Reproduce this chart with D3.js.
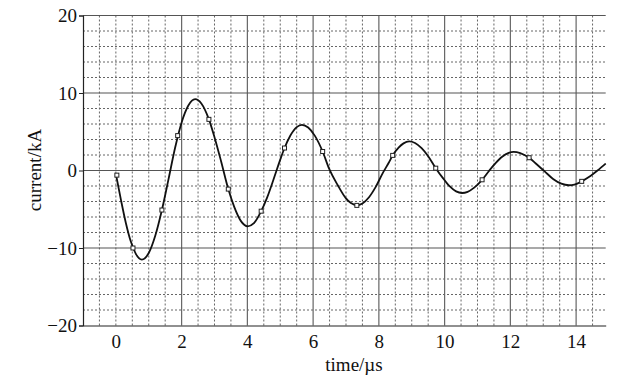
<!DOCTYPE html>
<html><head><meta charset="utf-8">
<script src="https://cdn.jsdelivr.net/npm/d3@7"></script>
<style>
html,body{margin:0;padding:0;background:#fff;}
svg{display:block;}
svg text{font-family:"Liberation Serif","Times New Roman",serif !important;fill:#111;}
</style></head>
<body><svg id="c" width="641" height="384"></svg>
<script>
// curve readings (time in µs, current in kA)
const curveT = [0, 0.15, 0.3, 0.45, 0.6, 0.79, 1.0, 1.2, 1.4, 1.6, 1.8, 2.0, 2.2, 2.41,
  2.6, 2.83, 3.0, 3.2, 3.42, 3.6, 3.8, 4.01, 4.2, 4.42, 4.6, 4.8, 5.0, 5.13, 5.3, 5.5, 5.66,
  5.85, 6.05, 6.29, 6.49, 6.75, 7.0, 7.15, 7.33, 7.5, 7.7, 7.9, 8.11, 8.3, 8.42, 8.6, 8.75, 8.92,
  9.1, 9.3, 9.5, 9.73, 9.95, 10.15, 10.35, 10.53, 10.7, 10.9, 11.14, 11.35, 11.55, 11.75, 11.95, 12.1,
  12.3, 12.57, 12.8, 13.05, 13.3, 13.55, 13.78, 13.95, 14.17, 14.4, 14.65, 14.9];
const curveI = [-0.45, -3.7, -6.7, -9.1, -10.7, -11.5, -10.65, -8.4, -5.1, -1.15, 2.9, 6.2, 8.35, 9.2,
  8.65, 6.6, 4.3, 1.2, -2.4, -4.7, -6.5, -7.2, -6.8, -5.25, -3.5, -1.1, 1.4, 2.9, 4.45, 5.6, 5.9,
  5.55, 4.5, 2.45, 0.2, -1.9, -3.6, -4.2, -4.5, -4.25, -3.45, -2.15, -0.4, 1.0, 1.95, 2.95, 3.5, 3.75,
  3.55, 2.88, 1.84, 0.3, -0.99, -2.03, -2.7, -2.9, -2.75, -2.21, -1.2, -0.06, 0.95, 1.78, 2.28, 2.4,
  2.25, 1.65, 0.81, -0.15, -1.09, -1.7, -1.9, -1.81, -1.4, -0.81, 0.0, 0.9];
// marker readings
const markT = [0.03, 0.52, 1.40, 1.88, 2.83, 3.42, 4.42, 5.13, 6.29, 7.33, 8.42, 9.73, 11.14, 12.57, 14.17];
const markI = [-0.6, -10.0, -5.1, 4.5, 6.6, -2.4, -5.25, 2.9, 2.45, -4.5, 1.95, 0.3, -1.2, 1.65, -1.4];
const xTicks = [0, 2, 4, 6, 8, 10, 12, 14];
const yTicks = [-20, -10, 0, 10, 20];
const xLabel = "time/µs";
const yLabel = "current/kA";

const svg = d3.select("#c");
const L = 83, R = 605.7, T = 15.5, B = 325.5;
const x = d3.scaleLinear().domain([-1, 14.9]).range([L, R]);
const y = d3.scaleLinear().domain([-20, 20]).range([B, T]);

const g = svg.append("g");
const minorX = d3.range(-0.5, 14.9, 0.5).filter(v => !(v >= 2 && v % 2 === 0));
g.append("g").selectAll("line").data(minorX).join("line")
  .attr("x1", d => x(d)).attr("x2", d => x(d)).attr("y1", T).attr("y2", B)
  .attr("stroke", "#666").attr("stroke-width", 1).attr("stroke-dasharray", "2,2");
const minorY = d3.range(-18, 20, 2).filter(v => v % 10 !== 0);
g.append("g").selectAll("line").data(minorY).join("line")
  .attr("x1", L).attr("x2", R).attr("y1", d => y(d)).attr("y2", d => y(d))
  .attr("stroke", "#666").attr("stroke-width", 1).attr("stroke-dasharray", "2,2");
g.append("g").selectAll("line").data(xTicks.filter(v => v > 0)).join("line")
  .attr("x1", d => x(d)).attr("x2", d => x(d)).attr("y1", T).attr("y2", B)
  .attr("stroke", "#666").attr("stroke-width", 1.2);
g.append("g").selectAll("line").data([-10, 0, 10, 20]).join("line")
  .attr("x1", L).attr("x2", R).attr("y1", d => y(d)).attr("y2", d => y(d))
  .attr("stroke", "#555").attr("stroke-width", 1.2);

const yAxis = d3.axisLeft(y).tickValues(yTicks).tickSize(4).tickPadding(2)
  .tickFormat(d => d < 0 ? "\u2212" + Math.abs(d) : d);
const ya = svg.append("g").attr("transform", `translate(${L},0)`).call(yAxis)
  .attr("font-family", null).attr("font-size", 19);
ya.select(".domain").attr("stroke", "#222").attr("stroke-width", 1.2);
ya.selectAll(".tick line").attr("stroke", "#222");

const xAxis = d3.axisBottom(x).tickValues(xTicks).tickSize(0).tickPadding(9);
const xa = svg.append("g").attr("transform", `translate(0,${B})`).call(xAxis)
  .attr("font-family", null).attr("font-size", 19);
xa.select(".domain").attr("stroke", "#222").attr("stroke-width", 1.2);

const line = d3.line().x(d => x(d[0])).y(d => y(d[1])).curve(d3.curveMonotoneX);
svg.append("path").datum(curveT.map((t, i) => [t, curveI[i]]))
  .attr("d", line).attr("fill", "none").attr("stroke", "#111").attr("stroke-width", 1.8);

svg.append("g").selectAll("rect").data(markT.map((t, i) => [t, markI[i]])).join("rect")
  .attr("x", d => x(d[0]) - 2).attr("y", d => y(d[1]) - 2).attr("width", 4).attr("height", 4)
  .attr("fill", "#fff").attr("stroke", "#222").attr("stroke-width", 1);

svg.append("text").attr("x", 354).attr("y", 371).attr("text-anchor", "middle")
  .attr("font-size", 19).text(xLabel);
svg.append("text").attr("transform", "translate(41,170) rotate(-90)").attr("text-anchor", "middle")
  .attr("font-size", 19).text(yLabel);
</script></body></html>
